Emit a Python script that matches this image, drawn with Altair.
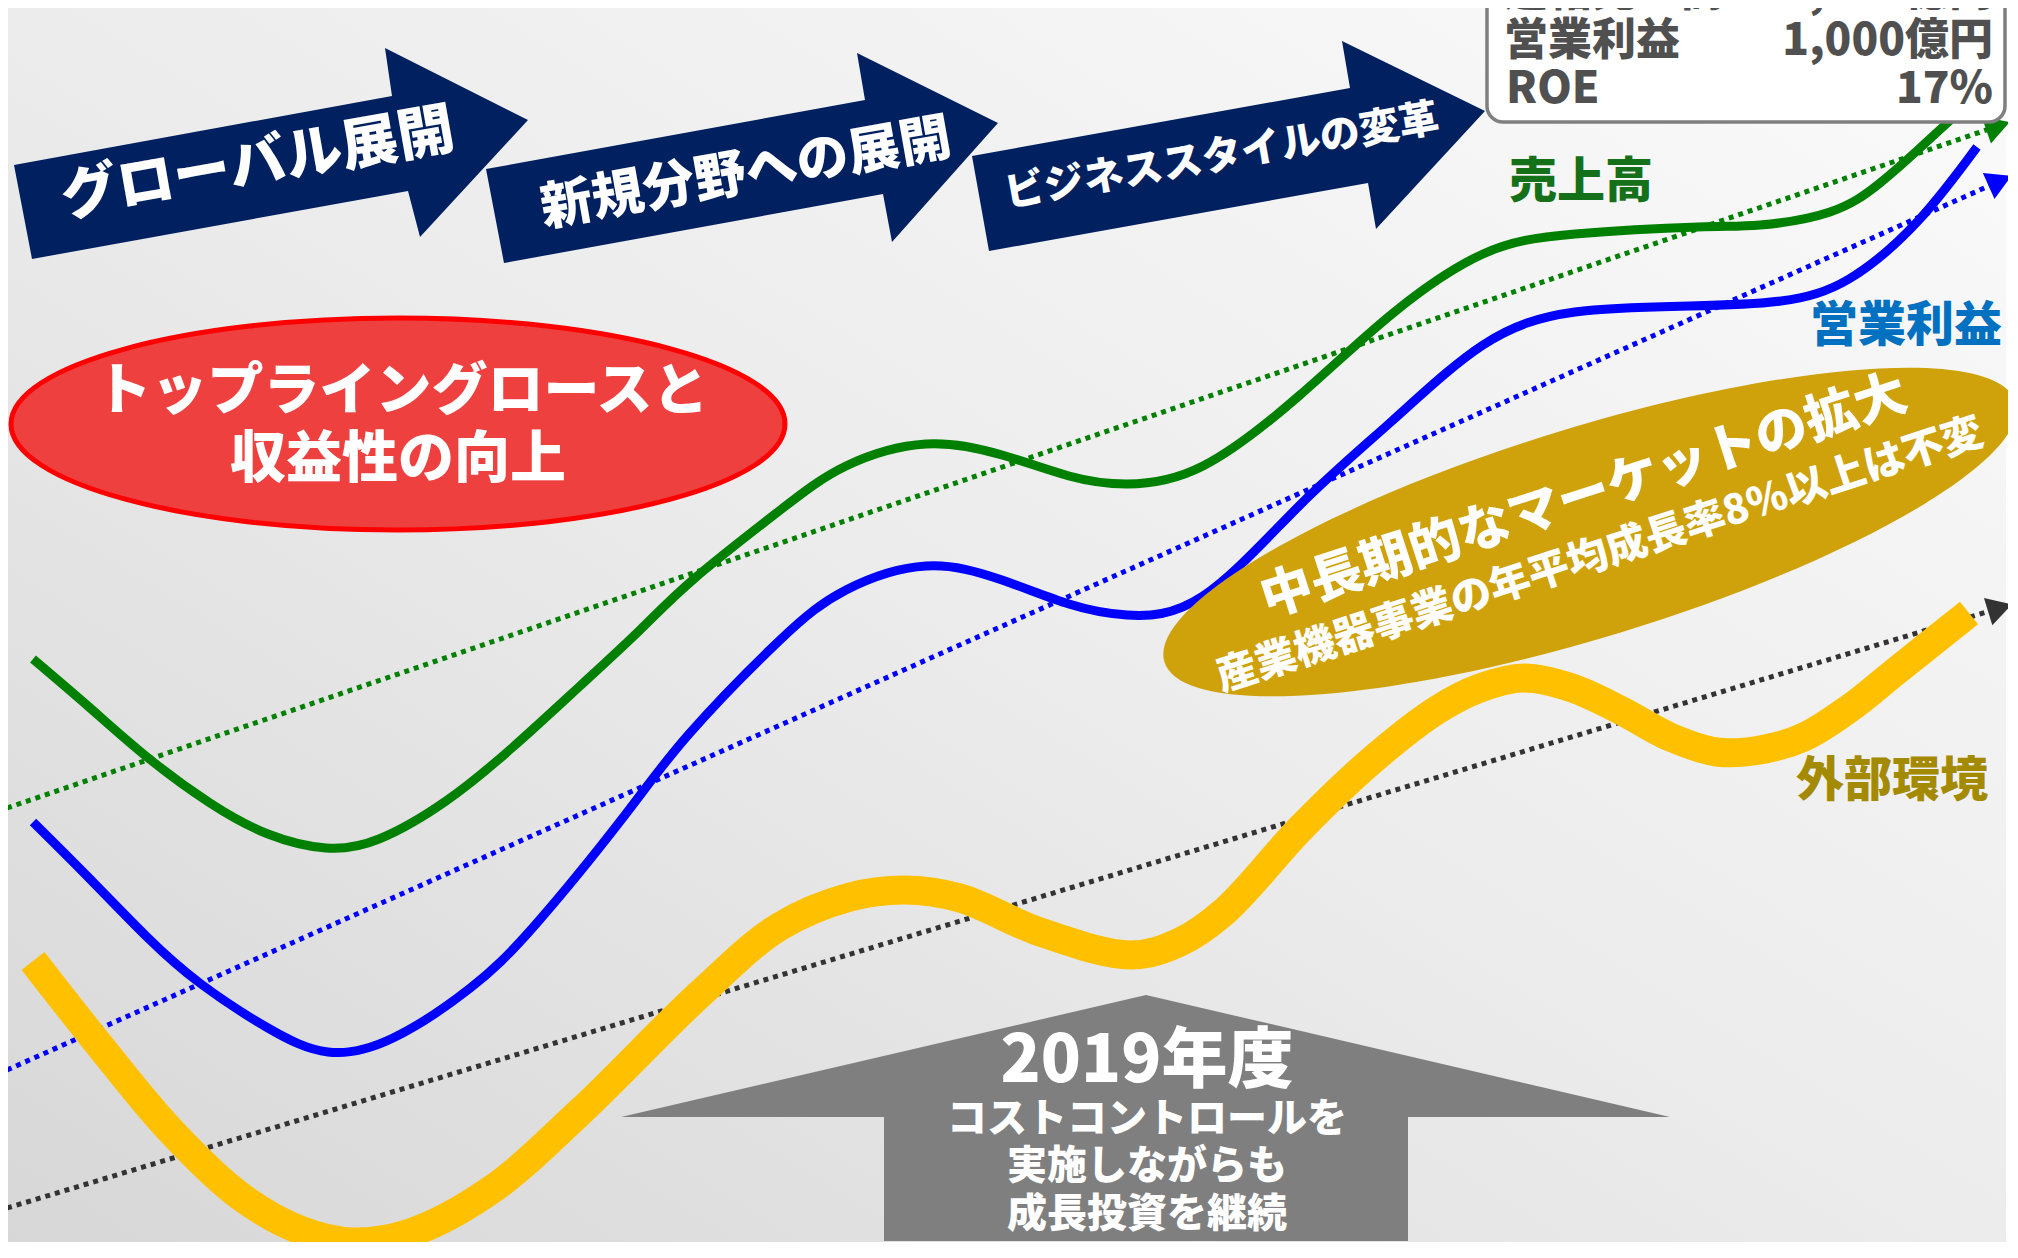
import altair as alt
import pandas as pd

# ---------------- data (image pixel units) ----------------
# 売上高 curve
sales_x = [33, 89, 147, 210, 268, 326, 379, 446, 513, 580, 640, 695, 779, 846, 926, 1002, 1069, 1127, 1203, 1300, 1392, 1483, 1575, 1698, 1760, 1830, 1880, 1920, 1955, 1985]
sales_y = [659, 707, 757, 803, 834, 848, 839, 801, 747, 686, 630, 578, 511, 466, 444, 455, 476, 484, 466, 395, 314, 254, 234, 227, 225, 212, 183, 148, 116, 90]
# 営業利益 curve
profit_x = [33, 89, 147, 201, 268, 328, 393, 469, 536, 625, 689, 779, 846, 926, 1002, 1069, 1127, 1203, 1300, 1392, 1483, 1575, 1689, 1781, 1849, 1918, 1977]
profit_y = [822, 878, 937, 984, 1028, 1052, 1038, 989, 924, 815, 734, 641, 590, 566, 580, 604, 615, 596, 505, 421, 345, 312, 306, 301, 279, 221, 147]
# 外部環境 curve
env_x = [33, 100, 170, 240, 300, 353, 410, 491, 580, 700, 779, 850, 904, 960, 1040, 1131, 1180, 1225, 1300, 1370, 1437, 1480, 1524, 1572, 1620, 1670, 1717, 1760, 1804, 1850, 1895, 1969]
env_y = [961, 1046, 1130, 1196, 1230, 1242, 1233, 1190, 1112, 994, 927, 897, 890, 898, 932, 955, 942, 911, 829, 762, 710, 688, 678, 688, 710, 737, 752, 750, 737, 708, 672, 613]

# dotted trend lines (start, arrow head)
sales_trend_x = [7, 1998]
sales_trend_y = [808, 126]
profit_trend_x = [7, 2000]
profit_trend_y = [1070, 181]
env_trend_x = [7, 2000]
env_trend_y = [1208, 608]

# navy phase arrows (polygon vertices)
arrow1_x = [14, 392, 385, 528, 420, 408, 32]
arrow1_y = [165, 96, 48, 120, 237, 191, 259]
arrow2_x = [486, 865, 857, 998, 892, 883, 504]
arrow2_y = [169, 100, 53, 123, 242, 194, 263]
arrow3_x = [972, 1350, 1342, 1485, 1376, 1368, 989]
arrow3_y = [156, 88, 41, 111, 229, 183, 251]
phase_labels = ["グローバル展開", "新規分野への展開", "ビジネススタイルの変革"]
phase_x = [258, 746, 1222]
phase_y = [165, 174, 157]

# grey up arrow (2019年度)
grey_x = [1146, 1670, 1408, 1408, 884, 884, 621]
grey_y = [995, 1117, 1117, 1241, 1241, 1117, 1117]
grey_labels = ["コストコントロールを", "実施しながらも", "成長投資を継続"]
grey_label_y = [1120, 1167, 1215]

# ellipses
red_oval_x, red_oval_y = [398], [424]
red_labels = ["トップライングロースと", "収益性の向上"]
red_label_x = [402, 398]
red_label_y = [392, 460]
gold_oval_x, gold_oval_y = [1590], [532]

# series labels
series_labels = ["売上高", "営業利益", "外部環境"]
series_label_x = [1581, 1906, 1892]
series_label_y = [183, 327, 782]

# target box
box_left = ["連結売上高", "営業利益", "ROE"]
box_right = ["5,000億円", "1,000億円", "17%"]
box_row_y = [-7, 42, 90]

# ---------------- helpers ----------------
FONT = "Noto Sans CJK JP"
W, H = 2000, 1234
xs = alt.Scale(domain=[8, 8 + W], nice=False, zero=False)
ys = alt.Scale(domain=[8, 8 + H], nice=False, zero=False, reverse=True)


def X():
    return alt.X("x:Q", scale=xs, axis=None)


def Y():
    return alt.Y("y:Q", scale=ys, axis=None)


def df_xy(x, y, **cols):
    d = pd.DataFrame({"x": x, "y": y})
    for k, v in cols.items():
        d[k] = v
    return d


def curve(x, y, color, width, interp):
    return alt.Chart(df_xy(x, y)).mark_line(
        color=color, strokeWidth=width, interpolate=interp
    ).encode(x=X(), y=Y())


def dotted(x, y, color):
    return alt.Chart(df_xy(x, y)).mark_line(
        color=color, strokeWidth=5, strokeDash=[5, 5]
    ).encode(x=X(), y=Y())


def head(x, y, color, angle):
    return alt.Chart(df_xy([x[-1]], [y[-1]])).mark_point(
        shape="triangle-right", size=820, filled=True, color=color, opacity=1, angle=angle
    ).encode(x=X(), y=Y())


def polygons(parts, color):
    rows = []
    for pid, (px, py) in enumerate(parts):
        for i, (a, b) in enumerate(zip(px, py)):
            rows.append({"pid": pid, "ord": i, "x": a, "y": b})
    return alt.Chart(pd.DataFrame(rows)).mark_line(
        filled=True, color=color, interpolate="linear"
    ).encode(x=X(), y=Y(), order="ord:Q", detail="pid:N")


def oval_path(r):
    k = 0.5523
    kr = round(k * r, 4)
    r = round(r, 4)
    return (f"M-1,0 C-1,{-kr} {-k},{-r} 0,{-r} C{k},{-r} 1,{-kr} 1,0 "
            f"C1,{kr} {k},{r} 0,{r} C{-k},{r} -1,{kr} -1,0 Z")


def text(labels, x, y, size, color="white", angle=0, align="center"):
    d = pd.DataFrame({"x": x, "y": y, "t": labels})
    return alt.Chart(d).mark_text(
        font=FONT, fontSize=size, fontWeight=900, color=color,
        angle=angle, align=align, baseline="middle"
    ).encode(x=X(), y=Y(), text="t:N")


# ---------------- layers ----------------
bg = alt.Chart(pd.DataFrame({"a": [0]})).mark_rect(
    fill={"gradient": "linear", "x1": 0, "y1": 1, "x2": 1, "y2": 0,
          "stops": [{"offset": 0, "color": "#d7d7d7"},
                    {"offset": 0.5, "color": "#ececec"},
                    {"offset": 1, "color": "#fbfbfb"}]}
).encode(x=alt.value(0), x2=alt.value(W - 2), y=alt.value(0), y2=alt.value(H))

layers = [
    bg,
    dotted(sales_trend_x, sales_trend_y, "#008000"),
    dotted(profit_trend_x, profit_trend_y, "#0000ff"),
    dotted(env_trend_x, env_trend_y, "#333333"),
    head(sales_trend_x, sales_trend_y, "#008000", 341),
    head(profit_trend_x, profit_trend_y, "#0000ff", 336),
    head(env_trend_x, env_trend_y, "#333333", 343),
    curve(env_x, env_y, "#ffc000", 29, "catmull-rom"),
    curve(sales_x, sales_y, "#008000", 9, "natural"),
    curve(profit_x, profit_y, "#0000ff", 9, "natural"),
    alt.Chart(df_xy(red_oval_x, red_oval_y)).mark_point(
        shape=oval_path(106 / 387), size=774 ** 2, filled=True,
        fill="#ef4040", stroke="#ff0000", strokeWidth=5, opacity=1
    ).encode(x=X(), y=Y()),
    alt.Chart(df_xy(gold_oval_x, gold_oval_y)).mark_point(
        shape=oval_path(105 / 445), size=890 ** 2, filled=True,
        fill="#cfa20b", opacity=1, angle=343
    ).encode(x=X(), y=Y()),
    polygons([(arrow1_x, arrow1_y), (arrow2_x, arrow2_y), (arrow3_x, arrow3_y)], "#002060"),
    polygons([(grey_x, grey_y)], "#7f7f7f"),
    alt.Chart(pd.DataFrame({"x": [1487], "x2": [2005], "y": [-40], "y2": [122]})).mark_rect(
        fill="white", stroke="#7f7f7f", strokeWidth=3.5, cornerRadius=16
    ).encode(x=X(), x2="x2:Q", y=Y(), y2="y2:Q"),
    # texts
    text(phase_labels[:1], phase_x[:1], phase_y[:1], 57, angle=350),
    text(phase_labels[1:2], phase_x[1:2], phase_y[1:2], 52, angle=350),
    text(phase_labels[2:], phase_x[2:], phase_y[2:], 40, angle=350),
    text(red_labels, red_label_x, red_label_y, 56),
    text(["中長期的なマーケットの拡大"], [1584], [497], 52, angle=342),
    text(["産業機器事業の年平均成長率8%以上は不変"], [1600], [556], 41, angle=342),
    text(["2019年度"], [1147], [1062], 66),
    text(grey_labels, [1147, 1147, 1147], grey_label_y, 40),
    text(series_labels[:1], series_label_x[:1], series_label_y[:1], 48, color="#15701a"),
    text(series_labels[1:2], series_label_x[1:2], series_label_y[1:2], 48, color="#0070c0"),
    text(series_labels[2:], series_label_x[2:], series_label_y[2:], 48, color="#a38a00"),
    text(box_left, [1504, 1504, 1506], box_row_y, 44, color="#505050", align="left"),
    text(box_right, [1993, 1993, 1993], box_row_y, 44, color="#505050", align="right"),
]

chart = alt.layer(*layers).properties(
    width=W, height=H, padding=0,
    autosize=alt.AutoSizeParams(type="none"),
).configure_view(strokeWidth=0)

chart.save("out.html", embed_options={"renderer": "svg", "actions": False})
